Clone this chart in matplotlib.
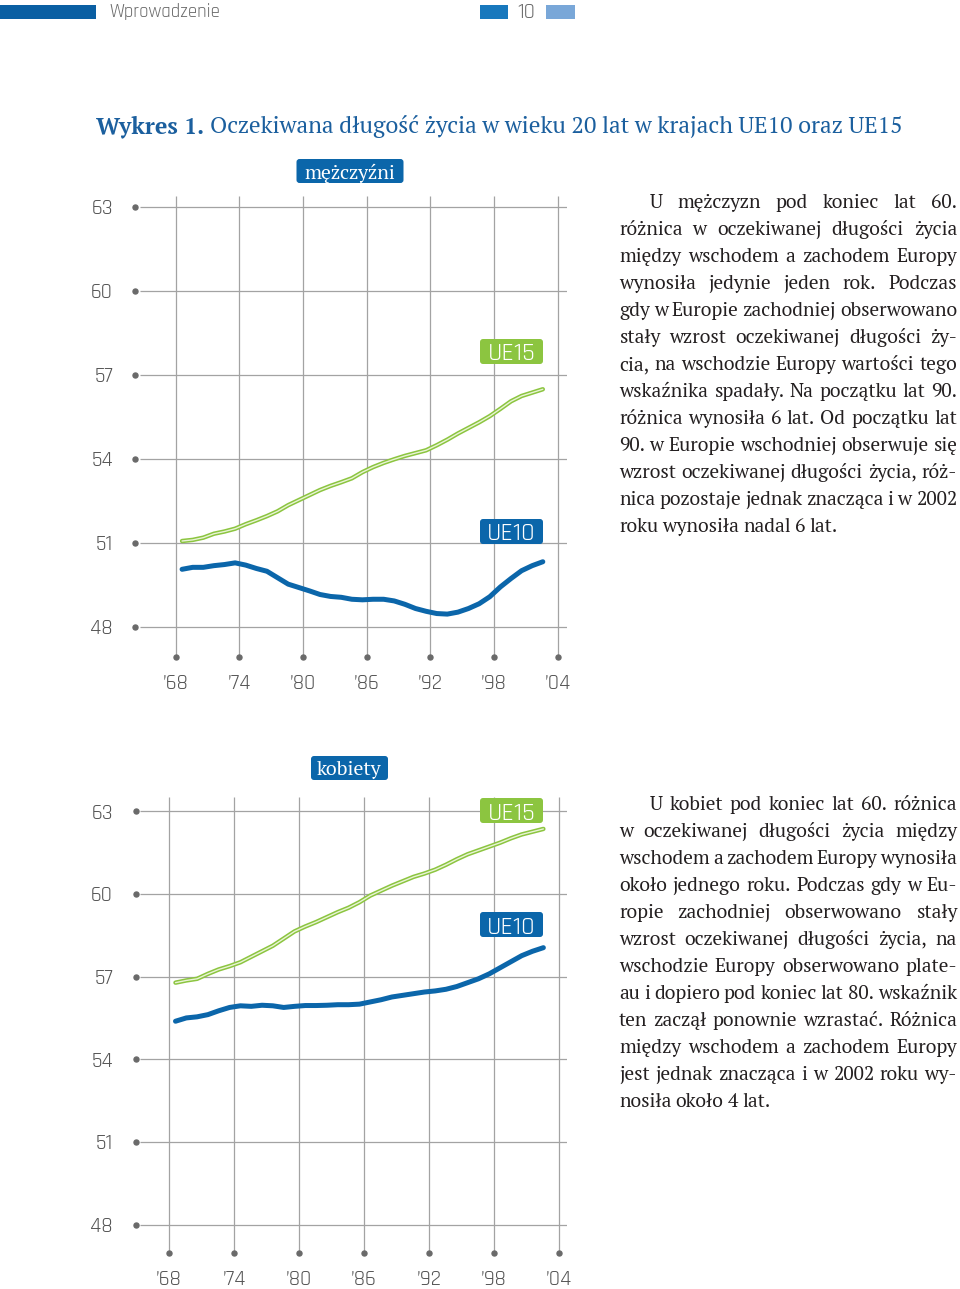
import matplotlib
matplotlib.use("Agg")
import matplotlib.pyplot as plt
from matplotlib import font_manager
from matplotlib.patches import FancyBboxPatch, Rectangle
from matplotlib.transforms import IdentityTransform
import numpy as np

# ---------------- dane ----------------
lata = list(range(1968, 2003))

m_ue15 = [51.06, 51.10, 51.18, 51.32, 51.40, 51.50, 51.66, 51.80, 51.95, 52.12,
          52.34, 52.52, 52.70, 52.88, 53.03, 53.16, 53.30, 53.52, 53.70, 53.85,
          53.98, 54.10, 54.20, 54.30, 54.48, 54.68, 54.90, 55.10, 55.30, 55.52,
          55.78, 56.05, 56.24, 56.36, 56.48]
m_ue10 = [50.05, 50.12, 50.12, 50.18, 50.22, 50.28, 50.20, 50.08, 49.98, 49.75,
          49.52, 49.40, 49.28, 49.15, 49.08, 49.05, 48.98, 48.96, 48.98, 48.98,
          48.92, 48.80, 48.65, 48.55, 48.47, 48.45, 48.52, 48.65, 48.82, 49.07,
          49.42, 49.72, 50.00, 50.18, 50.32]
k_ue15 = [56.78, 56.86, 56.92, 57.10, 57.26, 57.38, 57.52, 57.72, 57.92, 58.12,
          58.38, 58.64, 58.82, 58.98, 59.16, 59.34, 59.50, 59.70, 59.94, 60.12,
          60.30, 60.46, 60.62, 60.74, 60.88, 61.06, 61.26, 61.44, 61.58, 61.72,
          61.86, 62.02, 62.16, 62.26, 62.36]
k_ue10 = [55.38, 55.50, 55.54, 55.62, 55.76, 55.88, 55.94, 55.92, 55.96, 55.94,
          55.88, 55.92, 55.95, 55.95, 55.96, 55.98, 55.98, 56.00, 56.08, 56.16,
          56.26, 56.32, 56.38, 56.44, 56.48, 56.54, 56.64, 56.78, 56.92, 57.10,
          57.32, 57.54, 57.76, 57.92, 58.05]

os_y = [48, 51, 54, 57, 60, 63]
os_x = [1968, 1974, 1980, 1986, 1992, 1998, 2004]
etykiety_x = ["\u201968", "\u201974", "\u201980", "\u201986", "\u201992", "\u201998", "\u201904"]

tekst_m = [
    "U mężczyzn pod koniec lat 60.",
    "różnica w oczekiwanej długości życia",
    "między wschodem a zachodem Europy",
    "wynosiła jedynie jeden rok. Podczas",
    "gdy w Europie zachodniej obserwowano",
    "stały wzrost oczekiwanej długości ży-",
    "cia, na wschodzie Europy wartości tego",
    "wskaźnika spadały. Na początku lat 90.",
    "różnica wynosiła 6 lat. Od początku lat",
    "90. w Europie wschodniej obserwuje się",
    "wzrost oczekiwanej długości życia, róż-",
    "nica pozostaje jednak znacząca i w 2002",
    "roku wynosiła nadal 6 lat.",
]
tekst_k = [
    "U kobiet pod koniec lat 60. różnica",
    "w oczekiwanej długości życia między",
    "wschodem a zachodem Europy wynosiła",
    "około jednego roku. Podczas gdy w Eu-",
    "ropie zachodniej obserwowano stały",
    "wzrost oczekiwanej długości życia, na",
    "wschodzie Europy obserwowano plate-",
    "au i dopiero pod koniec lat 80. wskaźnik",
    "ten zaczął ponownie wzrastać. Różnica",
    "między wschodem a zachodem Europy",
    "jest jednak znacząca i w 2002 roku wy-",
    "nosiła około 4 lat.",
]

# ---------------- style ----------------
NIEBIESKI = "#0b66aa"
ZIELONY = "#8cc540"
SZARY = "#a3a3a3"
KROPKA = "#6a6a6a"
TEKST_OS = "#555555"

W, H = 960, 1289


def wybierz(rodziny, zapas):
    for r in rodziny:
        try:
            font_manager.findfont(font_manager.FontProperties(family=r), fallback_to_default=False)
            return r
        except Exception:
            pass
    return zapas


WASKI = wybierz(["Rajdhani", "Saira Semi Condensed", "Barlow Semi Condensed",
                 "Roboto Condensed", "Liberation Sans Narrow"], "DejaVu Sans")
SZERYF = wybierz(["PT Serif", "Source Serif 4", "Noto Serif"], "DejaVu Serif")
# Rajdhani jest optycznie mniejszy
WR = 1.25 if WASKI != "DejaVu Sans" else 1.0

fig = plt.figure(figsize=(W / 100, H / 100), dpi=100)
fig.patch.set_facecolor("white")
rend = fig.canvas.get_renderer()


def py(y):
    return H - y


def wykres(top, bottom, left, right, x68, px_rok, y63, px_jedn, ue15, ue10):
    ax = fig.add_axes([left / W, py(bottom) / H, (right - left) / W, (bottom - top) / H])
    x0 = 1968 - (x68 - left) / px_rok
    x1 = x0 + (right - left) / px_rok
    y1 = 63 + (y63 - top) / px_jedn
    y0 = y1 - (bottom - top) / px_jedn
    ax.set_xlim(x0, x1)
    ax.set_ylim(y0, y1)
    for s in ax.spines.values():
        s.set_visible(False)
    ax.hlines(os_y, x0, x1, color=SZARY, lw=0.9, zorder=1)
    ax.vlines(os_x, y0, y1, color=SZARY, lw=0.9, zorder=1)
    # kropki przy podziałkach
    ax.plot([x0 - 4.5 / px_rok] * len(os_y), os_y, "o", ms=3.6, color=KROPKA, clip_on=False, zorder=3)
    ax.plot(os_x, [y0] * len(os_x), "o", ms=3.6, color=KROPKA, clip_on=False, zorder=3)
    ax.set_yticks(os_y)
    ax.set_yticklabels([str(v) for v in os_y])
    ax.set_xticks(os_x)
    ax.set_xticklabels(etykiety_x)
    ax.tick_params(length=0, labelsize=12.5 * WR, labelcolor=TEKST_OS)
    ax.tick_params(axis="y", pad=19.5)
    ax.tick_params(axis="x", pad=12.5)
    for t in ax.get_xticklabels() + ax.get_yticklabels():
        t.set_fontfamily(WASKI)
        t.set_fontweight("normal")
    x = np.array(lata) + 0.6
    ax.plot(x, ue15, color=ZIELONY, lw=3.2, solid_capstyle="round", zorder=4)
    ax.plot(x, ue15, color="#e9f4d6", lw=1.0, solid_capstyle="round", zorder=5)
    ax.plot(x, ue10, color=NIEBIESKI, lw=3.6, solid_capstyle="round", zorder=4)
    return ax


def etykieta(cx, cy, w, h, tekst, kolor, rodzina, rozmiar, waga="normal"):
    p = FancyBboxPatch((cx - w / 2, py(cy) - h / 2), w, h,
                       boxstyle="round,pad=0,rounding_size=3",
                       transform=IdentityTransform(), fc=kolor, ec="none", zorder=6)
    fig.patches.append(p)
    p.set_figure(fig)
    fig.text(cx / W, py(cy) / H, tekst, color="white", family=rodzina, fontsize=rozmiar,
             weight=waga, ha="center", va="center_baseline", zorder=7)


def akapit(linie, x_lewo, x_prawo, y_pierwsza, krok, wciecie, rozmiar):
    for i, linia in enumerate(linie):
        slowa = linia.split(" ")
        lewo = x_lewo + (wciecie if i == 0 else 0)
        baza = y_pierwsza + i * krok
        arts = [fig.text(0, py(baza) / H, s, family=SZERYF, fontsize=rozmiar,
                         color="#231f20", ha="left", va="baseline") for s in slowa]
        szer = [a.get_window_extent(rend).width for a in arts]
        spacja = rozmiar * 0.3
        if i < len(linie) - 1 and len(slowa) > 1:
            spacja = (x_prawo - lewo - sum(szer)) / (len(slowa) - 1)
        x = lewo
        for a, s in zip(arts, szer):
            a.set_x(x / W)
            x += s + spacja


def rozmiar_akapitu(linie, dostepne, wciecie, start=13.0):
    najgorszy = 10.0
    for i, linia in enumerate(linie[:-1]):
        t = fig.text(0, 0, linia, family=SZERYF, fontsize=start)
        w = t.get_window_extent(rend).width
        t.remove()
        d = dostepne - (wciecie if i == 0 else 0)
        najgorszy = min(najgorszy, d / w)
    return start * najgorszy


# ---------------- nagłówek ----------------
for x0, w0, kol in [(0, 96, "#0a5fa3"), (480, 28, "#1878bd"), (546, 29, "#79a7d8")]:
    p = Rectangle((x0, py(19)), w0, 14, transform=IdentityTransform(), fc=kol, ec="none")
    fig.patches.append(p)
    p.set_figure(fig)
th = fig.text(109 / W, py(12) / H, "Wprowadzenie", family=WASKI, fontsize=14 * WR,
              color="#6b6b6b", va="center")
skala_h = 111 / th.get_window_extent(rend).width
if skala_h < 1:
    th.set_fontsize(14 * WR * skala_h)
fig.text(526 / W, py(12) / H, "10", family=WASKI, fontsize=th.get_fontsize() * 1.15,
         color="#6b6b6b", va="center", ha="center")

# ---------------- tytuł ----------------
t1 = fig.text(96 / W, py(133) / H, "Wykres 1.", family=SZERYF, fontsize=16.5, weight="bold",
              color="#1b5f9e", va="baseline")
w1 = t1.get_window_extent(rend).width
t2 = fig.text((96 + w1 + 6) / W, py(133) / H, "Oczekiwana długość życia w wieku 20 lat w krajach UE10 oraz UE15",
              family=SZERYF, fontsize=16.5, color="#1b5f9e", va="baseline")
w2 = t2.get_window_extent(rend).width
skala = (901 - 96 - 6) / (w1 + w2)
t1.set_fontsize(16.5 * skala)
t2.set_fontsize(16.5 * skala)
w1 = t1.get_window_extent(rend).width
t2.set_x((96 + w1 + 6) / W)

# ---------------- wykresy ----------------
wykres(196, 656.7, 140, 567, 175.7, 10.61, 206.7, 28.0, m_ue15, m_ue10)
wykres(796.7, 1253, 140, 567, 169.0, 10.82, 811.3, 27.55, k_ue15, k_ue10)

etykieta(350, 171, 107, 24, "mężczyźni", NIEBIESKI, SZERYF, 14.2)
etykieta(511.5, 351.5, 63, 25, "UE15", ZIELONY, WASKI, 15 * WR)
etykieta(511.5, 531.5, 63, 25, "UE10", NIEBIESKI, WASKI, 15 * WR)
etykieta(349.5, 768, 77, 24, "kobiety", NIEBIESKI, SZERYF, 14.2)
etykieta(511.5, 810.5, 63, 25, "UE15", ZIELONY, WASKI, 15 * WR)
etykieta(511.5, 924.5, 63, 25, "UE10", NIEBIESKI, WASKI, 15 * WR)

# ---------------- opisy ----------------
r = min(rozmiar_akapitu(tekst_m, 338, 31), rozmiar_akapitu(tekst_k, 338, 31)) * 1.02
akapit(tekst_m, 619, 957, 208, 27, 31, r)
akapit(tekst_k, 619, 957, 810, 27, 31, r)

fig.savefig("out.png", dpi=100)
